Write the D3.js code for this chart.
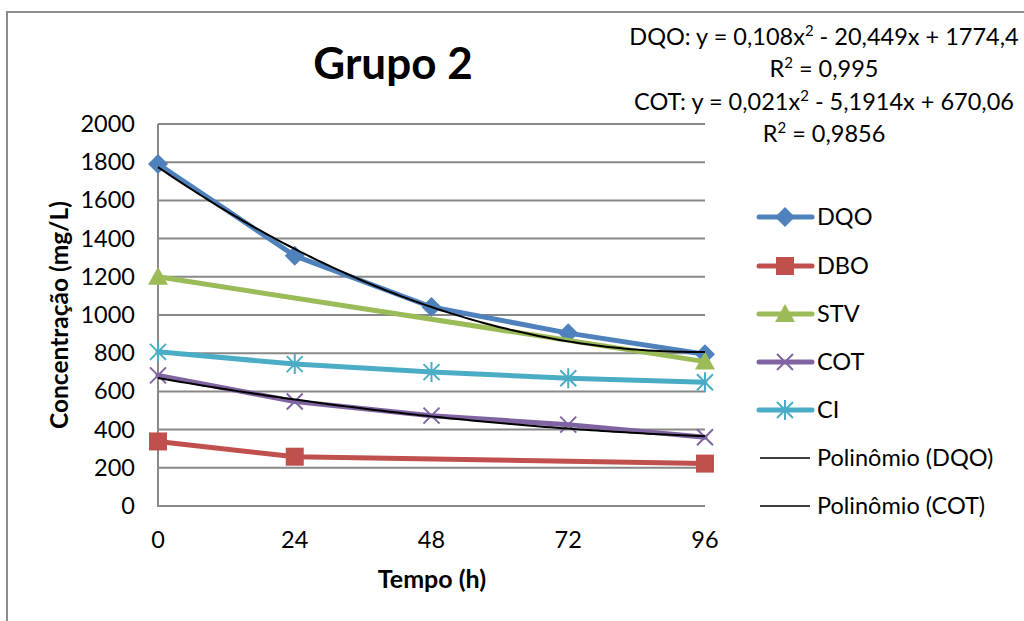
<!DOCTYPE html>
<html>
<head>
<meta charset="utf-8">
<script src="https://cdn.jsdelivr.net/npm/d3@7"></script>
<style>
  body { margin: 0; background: #fff; }
  text { font-family: Lato, "Open Sans", sans-serif; fill: #000; }
</style>
</head>
<body>
<div id="chart"></div>
<script>
// tempo (h) e concentrações (mg/L)
const hours = [0, 24, 48, 72, 96];
const dqo = [1790, 1310, 1042, 905, 795];
const dbo = [338, 258, null, null, 222];
const stv = [1200, null, null, null, 756];
const cot = [684, 547, 473, 426, 360];
const ci = [807, 743, 701, 669, 648];
const yTicks = [0, 200, 400, 600, 800, 1000, 1200, 1400, 1600, 1800, 2000];

// coeficientes das linhas de tendência (a x² + b x + c)
const dqoFit = [0.108, -20.449, 1774.4];
const cotFit = [0.021, -5.1914, 670.06];
const eqLines = [
  'DQO: y = 0,108x² - 20,449x + 1774,4',
  'R² = 0,995',
  'COT: y = 0,021x² - 5,1914x + 670,06',
  'R² = 0,9856'
];

const width = 1024, height = 621;
const fs = '23.5px';
const svg = d3.select('#chart').append('svg')
  .attr('width', width).attr('height', height);

// chart border
svg.append('path')
  .attr('d', 'M7,' + height + 'V12H' + width)
  .attr('fill', 'none').attr('stroke', '#8c8c8c').attr('stroke-width', 2);

const x = d3.scaleLinear().domain([0, 96]).range([158, 705]);
const y = d3.scaleLinear().domain([0, 2000]).range([506, 124]);

// gridlines
svg.append('g').selectAll('line').data(yTicks.slice(1)).enter().append('line')
  .attr('x1', x(0)).attr('x2', x(96))
  .attr('y1', d => y(d)).attr('y2', d => y(d))
  .attr('stroke', '#888').attr('stroke-width', 2);

// axes
svg.append('path')
  .attr('d', `M${x(0)},${y(2000)}V${y(0)}H${x(96)}`)
  .attr('fill', 'none').attr('stroke', '#888').attr('stroke-width', 2);

svg.append('g').selectAll('text').data(yTicks).enter().append('text')
  .attr('x', 135).attr('y', d => y(d) + 8)
  .attr('text-anchor', 'end').style('font-size', fs)
  .text(d => d);

svg.append('g').selectAll('text').data(hours).enter().append('text')
  .attr('x', d => x(d)).attr('y', 548)
  .attr('text-anchor', 'middle').style('font-size', fs)
  .text(d => d);

svg.append('text')
  .attr('x', 432).attr('y', 588)
  .attr('text-anchor', 'middle')
  .style('font-size', '25px').style('font-weight', 'bold')
  .text('Tempo (h)');

svg.append('text')
  .attr('transform', 'translate(68,315) rotate(-90)')
  .attr('text-anchor', 'middle')
  .style('font-size', '24.5px').style('font-weight', 'bold')
  .text('Concentração (mg/L)');

svg.append('text')
  .attr('x', 393).attr('y', 79)
  .attr('text-anchor', 'middle')
  .style('font-size', '44px').style('font-weight', 'bold')
  .text('Grupo 2');

// equações, com o expoente como sobrescrito
svg.append('g').selectAll('text').data(eqLines).enter().append('text')
  .attr('x', 824).attr('y', (d, i) => [45, 77, 110, 142][i])
  .attr('text-anchor', 'middle').style('font-size', fs)
  .each(function(d) {
    const t = d3.select(this);
    d.split('²').forEach((part, k) => {
      if (k > 0) {
        t.append('tspan').attr('dy', -9).style('font-size', '15px').text('2');
        t.append('tspan').attr('dy', 9).text(part);
      } else {
        t.append('tspan').text(part);
      }
    });
  });

// marcadores
const markers = {
  diamond: (g, c) => g.append('path').attr('d', 'M0,-10L10,0L0,10L-10,0Z').attr('fill', c),
  square: (g, c) => g.append('rect').attr('x', -9).attr('y', -9)
    .attr('width', 18).attr('height', 18).attr('fill', c),
  triangle: (g, c) => g.append('path').attr('d', 'M0,-10L10,8L-10,8Z').attr('fill', c),
  cross: (g, c) => g.append('path').attr('d', 'M-8,-8L8,8M-8,8L8,-8')
    .attr('stroke', c).attr('stroke-width', 2),
  star: (g, c) => g.append('path').attr('d', 'M-8,-8L8,8M-8,8L8,-8M0,-10V10')
    .attr('stroke', c).attr('stroke-width', 2)
};

const series = [
  { name: 'DQO', values: dqo, color: '#4f81bd', marker: 'diamond' },
  { name: 'DBO', values: dbo, color: '#c0504d', marker: 'square' },
  { name: 'STV', values: stv, color: '#9bbb59', marker: 'triangle' },
  { name: 'COT', values: cot, color: '#8064a2', marker: 'cross' },
  { name: 'CI', values: ci, color: '#4bacc6', marker: 'star' }
];

const line = d3.line().x(d => x(d[0])).y(d => y(d[1]));

series.forEach(s => {
  const pts = hours.map((h, i) => [h, s.values[i]]).filter(d => d[1] != null);
  const g = svg.append('g');
  g.append('path').datum(pts)
    .attr('d', line).attr('fill', 'none')
    .attr('stroke', s.color).attr('stroke-width', 5)
    .attr('stroke-linejoin', 'round').attr('stroke-linecap', 'round');
  pts.forEach(p => {
    const m = g.append('g').attr('transform', `translate(${x(p[0])},${y(p[1])})`);
    markers[s.marker](m, s.color);
  });
});

// linhas de tendência polinomiais
const poly = (c, t) => c[0] * t * t + c[1] * t + c[2];
[dqoFit, cotFit].forEach(c => {
  svg.append('path')
    .datum(d3.range(0, 96.5, 1).map(t => [t, poly(c, t)]))
    .attr('d', line).attr('fill', 'none')
    .attr('stroke', '#000').attr('stroke-width', 2);
});

// legenda
const legendY = [217, 266, 314, 362, 410, 458, 506];
const legend = svg.append('g');
series.forEach((s, i) => {
  const g = legend.append('g').attr('transform', `translate(0,${legendY[i]})`);
  g.append('line').attr('x1', 759).attr('x2', 812)
    .attr('stroke', s.color).attr('stroke-width', 5).attr('stroke-linecap', 'round');
  markers[s.marker](g.append('g').attr('transform', 'translate(785,0)'), s.color);
  g.append('text').attr('x', 817).attr('y', 8).style('font-size', fs).text(s.name);
});
['Polinômio (DQO)', 'Polinômio (COT)'].forEach((name, j) => {
  const g = legend.append('g').attr('transform', `translate(0,${legendY[5 + j]})`);
  g.append('line').attr('x1', 760).attr('x2', 810)
    .attr('stroke', '#000').attr('stroke-width', 1.5);
  g.append('text').attr('x', 817).attr('y', 8).style('font-size', fs).text(name);
});
</script>
</body>
</html>
